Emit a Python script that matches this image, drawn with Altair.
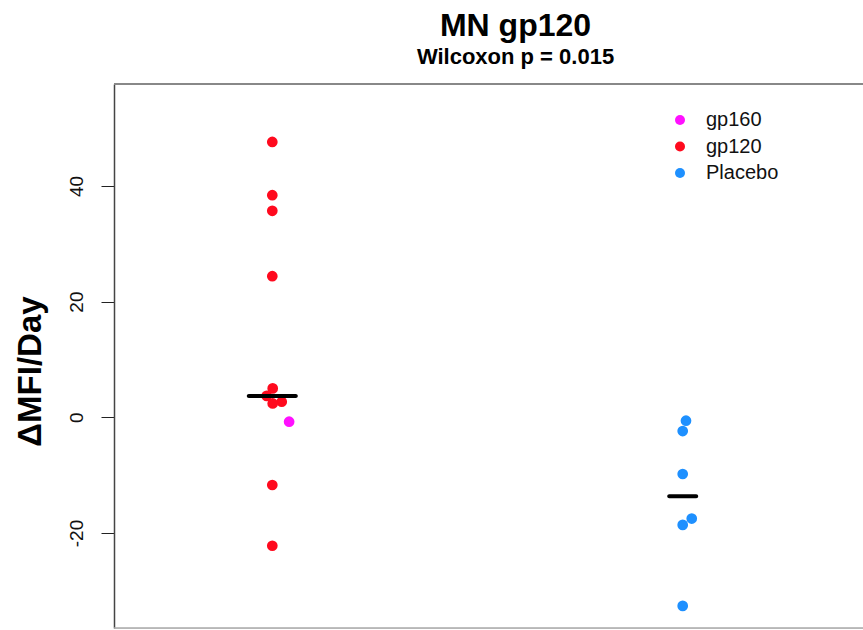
import altair as alt
import pandas as pd

# ---- data ----
point_type = ["gp120"] * 10 + ["gp160"] + ["Placebo"] * 6
arm = ["Vaccine"] * 11 + ["Placebo"] * 6
arm_pos = [1] * 11 + [2] * 6
values = [47.6, 38.4, 35.7, 24.4, 5.0, 3.7, 2.7, 2.4, -11.7, -22.2, -0.76,
          -0.58, -2.37, -9.8, -17.5, -18.6, -32.6]
swarm_offset = [0, 0, 0, 0, 0.001, -0.0137, 0.023, 0.001, 0, 0, 0.041,
                0.008, 0, 0, 0.022, 0, 0]
legend_order = ["gp160", "gp120", "Placebo"]
legend_colors = ["#FF10FF", "#FF0A1E", "#1E90FF"]
y_ticks = [-20, 0, 20, 40]

df = pd.DataFrame({
    "type": point_type,
    "arm": arm,
    "pos": arm_pos,
    "value": values,
    "off": swarm_offset,
})
df["x"] = df["pos"] + df["off"]

W, H = 749, 544
FONT = "Liberation Sans"

xscale = alt.Scale(domain=[0.6143, 2.4393], nice=False, zero=False)
yscale = alt.Scale(domain=[-36.42, 57.62], nice=False, zero=False)

base = alt.Chart(df)

points = base.mark_circle(size=115, opacity=1).encode(
    x=alt.X("x:Q", scale=xscale, axis=None),
    y=alt.Y("value:Q", scale=yscale,
            axis=alt.Axis(values=y_ticks, title="ΔMFI/Day", grid=False,
                          labelExpr="datum.value < 0 ? '-' + abs(datum.value) : '' + datum.value",
                          domain=True, domainColor="#444", domainWidth=1.5,
                          tickColor="#222", tickSize=13, tickWidth=1,
                          labelAngle=270, labelAlign="center",
                          labelBaseline="alphabetic", labelPadding=19,
                          labelFontSize=19, labelColor="#111", labelFont=FONT,
                          titleFont=FONT, titleFontSize=33, titleFontWeight="bold",
                          titleColor="#000", titleAngle=270, titleAlign="center",
                          titleBaseline="alphabetic", titleX=-74, titleY=287)),
    color=alt.Color("type:N",
                    scale=alt.Scale(domain=legend_order, range=legend_colors),
                    legend=alt.Legend(title=None, orient="none", legendX=556,
                                      legendY=26, symbolType="circle",
                                      symbolSize=100, symbolStrokeWidth=0,
                                      labelFontSize=20, labelFont=FONT,
                                      labelColor="#111", labelOffset=16,
                                      rowPadding=6.5, padding=0)),
)

medians = base.transform_aggregate(
    median="median(value)", groupby=["arm", "pos"]
).mark_tick(orient="horizontal", thickness=4, color="black", opacity=1,
            cornerRadius=2).encode(
    x=alt.X("pos:Q", scale=xscale),
    y=alt.Y("median:Q", scale=yscale),
    size=alt.Size("arm:N", scale=alt.Scale(domain=["Vaccine", "Placebo"], range=[51, 31]),
                  legend=None),
)

one = alt.Data(values=[{}])
top_line = alt.Chart(one).mark_rule(color="#888", strokeWidth=2).encode(
    x=alt.value(0), x2=alt.value(W), y=alt.value(0))
bottom_line = alt.Chart(one).mark_rule(color="#aaa", strokeWidth=1.5).encode(
    x=alt.value(0), x2=alt.value(W), y=alt.value(H))

chart = alt.layer(points, medians, top_line, bottom_line).properties(
    width=W, height=H,
    title=alt.TitleParams(text="MN gp120", subtitle="Wilcoxon p = 0.015",
                          font=FONT, fontSize=32, fontWeight="bold", color="#000",
                          subtitleFont=FONT, subtitleFontSize=22,
                          subtitleFontWeight="bold", subtitleColor="#000",
                          anchor="middle", frame="group", dx=27, offset=14,
                          subtitlePadding=4),
    autosize=alt.AutoSizeParams(type="none"),
    padding={"left": 114, "top": 84, "right": 0, "bottom": 2},
).configure_view(stroke=None).configure(font=FONT)

chart.save("out.html", embed_options={"renderer": "svg", "actions": False})
